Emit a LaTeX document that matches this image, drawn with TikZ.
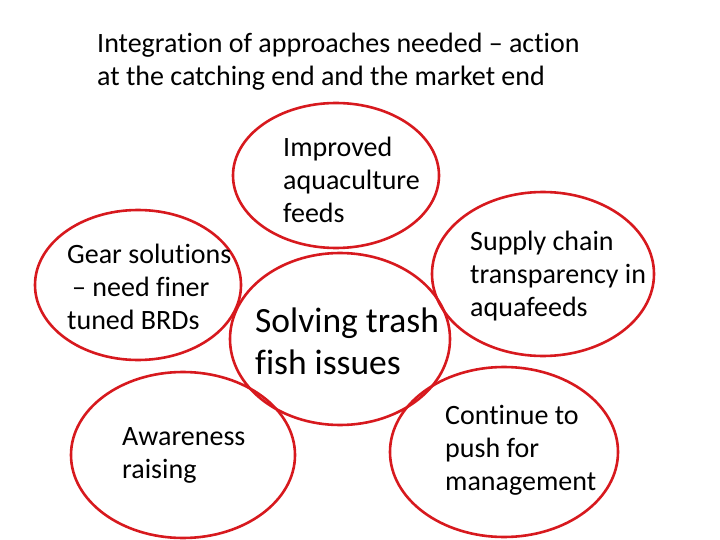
\documentclass[tikz,border=0pt]{standalone}
\usepackage{fontspec}
\setmainfont{Carlito}[Ligatures=NoCommon]
\usetikzlibrary{shapes.geometric}
\definecolor{R1}{RGB}{215,25,30}

\begin{document}
\begin{tikzpicture}[x=1pt,y=-1pt,
      oval/.style={draw=R1,line width=2.6pt,ellipse,inner sep=0pt},
      txt/.style={anchor=west,align=left,inner sep=0pt,
                  font=\fontsize{28}{33}\selectfont},
      bigtxt/.style={txt,font=\fontsize{35.5}{42}\selectfont}]
  \useasboundingbox (0,0) rectangle (720,540);
  \node[txt] (title) at (97,61.5)
    {Integration of approaches needed – action\\
     at the catching end and the market end};
  \node[oval,minimum width=206pt,minimum height=145pt] (feeds) at (336,175.5) {};
  \node[oval,minimum width=206pt,minimum height=150pt] (gear) at (138,285) {};
  \node[oval,minimum width=220pt,minimum height=172pt] (trash) at (340,339) {};
  \node[oval,minimum width=222pt,minimum height=164pt] (supply) at (543,274) {};
  \node[oval,minimum width=224pt,minimum height=166pt] (aware) at (183,455) {};
  \node[oval,minimum width=228pt,minimum height=170pt] (manage) at (504,452) {};
  \node[txt] (feedstxt) at (283,180) {Improved\\aquaculture\\feeds};
  \node[txt] (geartxt) at (67,287)
    {Gear solutions\\\hspace*{5pt}– need finer\\tuned BRDs};
  \node[bigtxt] (trashtxt) at (255,341) {Solving trash\\fish issues};
  \node[txt] (supplytxt) at (470,276)
    {Supply chain\\transparency in\\aquafeeds};
  \node[txt] (awaretxt) at (122,455) {Awareness\\raising};
  \node[txt] (managetxt) at (445,450)
    {Continue to\\push for\\management};
\end{tikzpicture}
\end{document}
